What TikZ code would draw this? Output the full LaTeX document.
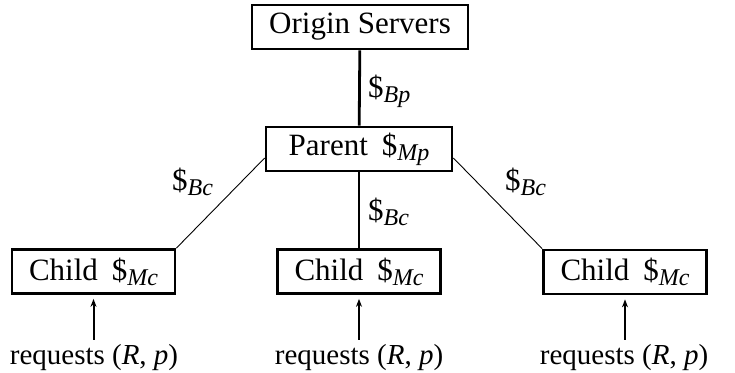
\documentclass[tikz,border=0pt]{standalone}
\usepackage{fontspec}
\setmainfont{Liberation Serif}
\usetikzlibrary{arrows.meta,calc}
\newcommand{\cost}[1]{\$\raisebox{-5pt}{\fontsize{24}{24}\selectfont\itshape #1}}
\begin{document}
\begin{tikzpicture}[x=1pt,y=-1pt,
  box/.style={draw,line width=2.7pt,minimum height=44pt,inner sep=0pt,
    font=\fontsize{31}{36}\selectfont},
  lbl/.style={inner sep=0pt,font=\fontsize{31}{36}\selectfont},
  req/.style={inner sep=0pt,font=\fontsize{29}{34}\selectfont},
  trunk/.style={line width=2.8pt},
  branch/.style={line width=0.9pt},
  feed/.style={line width=2pt,-{Stealth[length=8pt,width=6pt]}}]
\useasboundingbox (0,0) rectangle (735,372);
% servers and the parent cache
\node[box,minimum width=216pt] (origin) at (360,27) {Origin Servers};
\node[box,minimum width=186pt] (parent) at (359,149) {Parent\hspace{0.45em}\cost{Mp}};
% child caches
\node[box,minimum width=163pt] (c1) at (93.5,271.5) {Child\hspace{0.45em}\cost{Mc}};
\node[box,minimum width=163pt] (c2) at (359,271.5) {Child\hspace{0.45em}\cost{Mc}};
\node[box,minimum width=163pt] (c3) at (625,272) {Child\hspace{0.45em}\cost{Mc}};
% links
\draw[trunk] (origin) -- (parent);
\draw[trunk] (parent) -- (c2);
\draw[branch] ([yshift=-9pt]parent.west) -- (c1.north east);
\draw[branch] ([yshift=-9pt]parent.east) -- (c3.north west);
% link costs
\node[lbl,anchor=base west] (lbp) at (368,97) {\cost{Bp}};
\node[lbl,anchor=base west] (lbc1) at (172,190) {\cost{Bc}};
\node[lbl,anchor=base west] (lbc2) at (368,220) {\cost{Bc}};
\node[lbl,anchor=base west] (lbc3) at (505,190) {\cost{Bc}};
% incoming requests
\node[req,anchor=base] (r1) at (94,364) {requests (\textit{R}, \textit{p})};
\node[req,anchor=base] (r2) at (359,364) {requests (\textit{R}, \textit{p})};
\node[req,anchor=base] (r3) at (624,364) {requests (\textit{R}, \textit{p})};
\draw[feed] (r1.north -| c1.south) ++(0,-4) -- ([yshift=-4pt]c1.south);
\draw[feed] (r2.north -| c2.south) ++(0,-4) -- ([yshift=-4pt]c2.south);
\draw[feed] (r3.north -| c3.south) ++(0,-4) -- ([yshift=-4pt]c3.south);
\end{tikzpicture}
\end{document}
